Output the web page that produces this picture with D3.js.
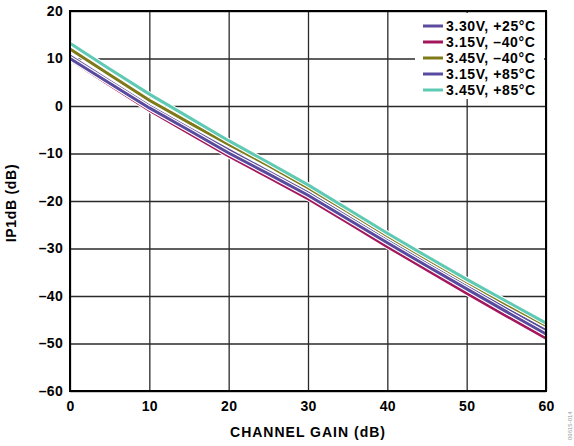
<!DOCTYPE html>
<html>
<head>
<meta charset="utf-8">
<script src="https://cdn.jsdelivr.net/npm/d3@7"></script>
<style>
  body { margin: 0; background: #fff; }
  svg text { font-family: "Liberation Sans", Arial, sans-serif; font-weight: bold; fill: #000; }
</style>
</head>
<body>
<svg id="chart"></svg>
<script>
// channel gain (dB) on x, IP1dB (dB) on y
const gain = [0, 5, 10, 15, 20, 25, 30, 35, 40, 45, 50, 55, 60];
const v330_p25 = [10.5, 5.2, 0.0, -4.7, -9.3, -13.8, -18.3, -23.3, -28.3, -33.2, -38.0, -42.7, -47.3];
const v315_m40 = [9.8, 4.4, -0.9, -5.7, -10.5, -15.0, -19.5, -24.5, -29.6, -34.5, -39.4, -44.2, -48.9];
const v345_m40 = [12.0, 6.6, 1.2, -3.5, -8.1, -12.5, -17.2, -22.2, -27.3, -32.2, -37.0, -41.7, -46.2];
const v315_p85 = [10.0, 4.8, -0.4, -5.1, -9.9, -14.3, -18.8, -23.8, -28.8, -33.7, -38.5, -43.3, -48.0];
const v345_p85 = [13.2, 7.8, 2.5, -2.4, -7.3, -11.9, -16.6, -21.7, -26.8, -31.7, -36.5, -41.1, -45.7];

const seriesNames = ["3.30V, +25°C", "3.15V, –40°C", "3.45V, –40°C", "3.15V, +85°C", "3.45V, +85°C"];
const seriesColors = ["#5a4b9c", "#a3185d", "#7e7a18", "#584a9e", "#5ecab3"];
const seriesValues = [v330_p25, v315_m40, v345_m40, v315_p85, v345_p85];

const xTicks = [0, 10, 20, 30, 40, 50, 60];
const yTicks = [20, 10, 0, -10, -20, -30, -40, -50, -60];

const W = 574, H = 446;
const margin = { top: 11, right: 28, bottom: 55, left: 70 };
const width = W - margin.left - margin.right;
const height = H - margin.top - margin.bottom;

const svg = d3.select("#chart").attr("width", W).attr("height", H);
const g = svg.append("g").attr("transform", `translate(${margin.left},${margin.top})`);

const x = d3.scaleLinear().domain([0, 60]).range([0, width]);
const y = d3.scaleLinear().domain([-60, 20]).range([height, 0]);

const fmt = d => (d < 0 ? "–" + Math.abs(d) : String(d));

// grid + tick labels
const xAxis = g.append("g").attr("transform", `translate(0,${height})`)
  .call(d3.axisBottom(x).tickValues(xTicks).tickSize(-height).tickPadding(10).tickFormat(fmt));
const yAxis = g.append("g")
  .call(d3.axisLeft(y).tickValues(yTicks).tickSize(-width).tickPadding(7).tickFormat(fmt));

[xAxis, yAxis].forEach(a => {
  a.select(".domain").remove();
  a.selectAll(".tick line").attr("stroke", "#2a2a2a").attr("stroke-width", 1.3);
  a.selectAll(".tick text").style("font-size", "14px").style("letter-spacing", "0.3px")
    .attr("fill", "#000");
});
xAxis.selectAll(".tick text").attr("dy", "0.71em");

// lines
const line = d3.line().x((d, i) => x(gain[i])).y(d => y(d));
seriesValues.forEach((vals, i) => {
  g.append("path").datum(vals).attr("d", line)
    .attr("fill", "none").attr("stroke", "#fff").attr("stroke-width", 5.2);
  g.append("path").datum(vals).attr("d", line)
    .attr("fill", "none").attr("stroke", seriesColors[i]).attr("stroke-width", 3);
});

// frame
g.append("rect").attr("width", width).attr("height", height)
  .attr("fill", "none").attr("stroke", "#000").attr("stroke-width", 2);

// legend
const leg = g.append("g").attr("transform", `translate(${width - 131},2)`);
leg.append("rect").attr("width", 129).attr("height", 86).attr("fill", "#fff");
seriesNames.forEach((name, i) => {
  const yy = 13 + i * 16;
  leg.append("line").attr("x1", 8).attr("x2", 28).attr("y1", yy).attr("y2", yy)
    .attr("stroke", seriesColors[i]).attr("stroke-width", 3);
  leg.append("text").attr("x", 31).attr("y", yy + 5).text(name)
    .style("font-size", "14px").style("letter-spacing", "0.6px");
});

// axis titles
svg.append("text").attr("x", margin.left + width / 2).attr("y", 437)
  .attr("text-anchor", "middle").style("font-size", "14px").style("letter-spacing", "1px")
  .text("CHANNEL GAIN (dB)");
svg.append("text").attr("transform", `translate(16,${margin.top + height / 2 + 2}) rotate(-90)`)
  .attr("text-anchor", "middle").style("font-size", "14px").style("letter-spacing", "0.7px")
  .text("IP1dB (dB)");

// figure id
svg.append("text").attr("transform", "translate(572,440) rotate(-90)")
  .style("font-size", "6px").style("font-weight", "normal")
  .style("fill", "#999").text("09615-014");
</script>
</body>
</html>
